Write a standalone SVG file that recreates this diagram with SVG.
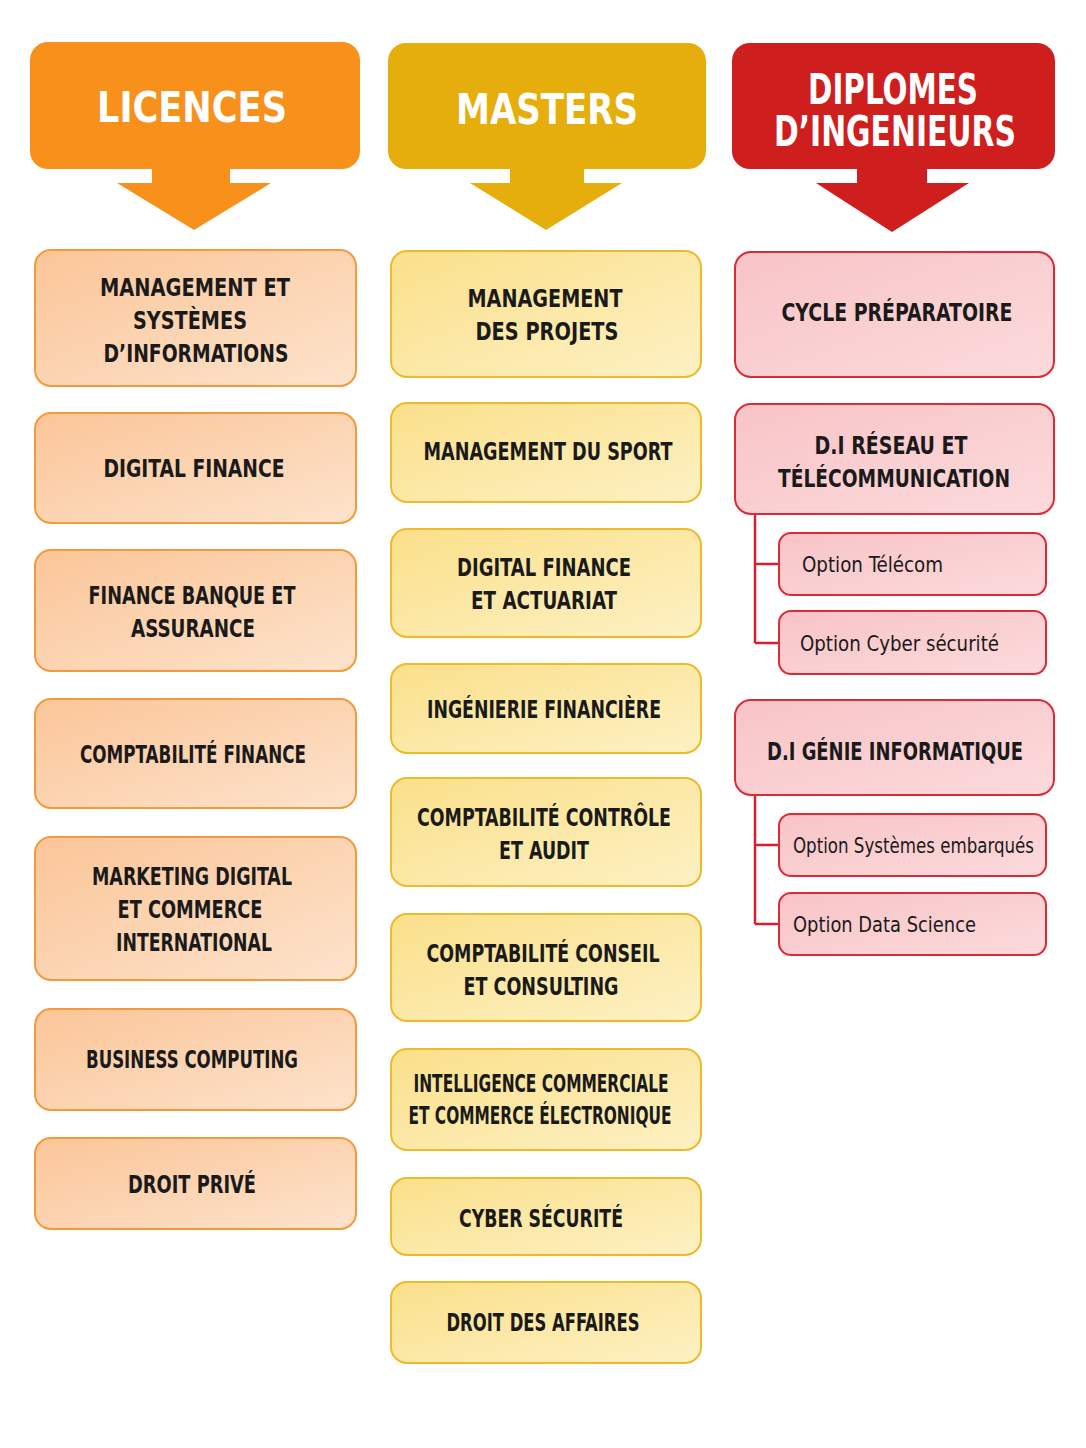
<svg xmlns="http://www.w3.org/2000/svg" width="1086" height="1448" viewBox="0 0 1086 1448">
<defs>
<linearGradient id="gl" x1="0" y1="0" x2="1" y2="1"><stop offset="0" stop-color="#FBC598"/><stop offset="1" stop-color="#FDE3CC"/></linearGradient>
<linearGradient id="gm" x1="0" y1="0" x2="1" y2="1"><stop offset="0" stop-color="#FBE08A"/><stop offset="1" stop-color="#FDF1C4"/></linearGradient>
<linearGradient id="gd" x1="0" y1="0" x2="1" y2="1"><stop offset="0" stop-color="#F8C4C7"/><stop offset="1" stop-color="#FCDADC"/></linearGradient>
</defs>
<style>
text{font-family:"DejaVu Sans Condensed","DejaVu Sans",sans-serif;font-weight:bold;text-anchor:middle;fill:#1a1a1a;font-size:24px}
.h{fill:#fff;font-size:42px}
.l{fill:url(#gl);stroke:#F39A3C;stroke-width:2}
.m{fill:url(#gm);stroke:#EDBB2A;stroke-width:2}
.d{fill:url(#gd);stroke:#DD2A38;stroke-width:2}
.o{font-size:22px;font-weight:normal;text-anchor:start}
.c{fill:none;stroke:#D62030;stroke-width:2.5}
</style>
<rect width="1086" height="1448" fill="#fff"/>
<g id="h-licences">
<rect x="30" y="42" width="330" height="127" rx="18" fill="#F8901C"/>
<polygon points="152,169 230,169 230,183 271,183 194,230 117,183 152,183" fill="#F8901C"/>
<text class="h" x="192" y="122" textLength="190" lengthAdjust="spacingAndGlyphs">LICENCES</text></g>
<g id="h-masters">
<rect x="388" y="43" width="318" height="126" rx="18" fill="#E6AE0C"/>
<polygon points="510,169 584,169 584,183 622,183 546,230 470,183 510,183" fill="#E6AE0C"/>
<text class="h" x="547" y="124" textLength="182" lengthAdjust="spacingAndGlyphs">MASTERS</text></g>
<g id="h-diplomes">
<rect x="732" y="43" width="323" height="126" rx="18" fill="#CF1E1E"/>
<polygon points="857,169 927,169 927,183 969,183 892,232 816,183 857,183" fill="#CF1E1E"/>
<text class="h" x="893" y="104" font-size="35" textLength="170" lengthAdjust="spacingAndGlyphs">DIPLOMES</text>
<text class="h" x="895" y="146" font-size="35" textLength="242" lengthAdjust="spacingAndGlyphs">D’INGENIEURS</text></g>

<g id="l1"><rect class="l" x="35" y="250" width="321" height="136" rx="16"/><text x="195" y="296" textLength="190" lengthAdjust="spacingAndGlyphs">MANAGEMENT ET</text><text x="190" y="329" textLength="114" lengthAdjust="spacingAndGlyphs">SYSTÈMES</text><text x="196" y="362" textLength="185" lengthAdjust="spacingAndGlyphs">D’INFORMATIONS</text></g>
<g id="l2"><rect class="l" x="35" y="413" width="321" height="110" rx="16"/><text x="194" y="477" textLength="181" lengthAdjust="spacingAndGlyphs">DIGITAL FINANCE</text></g>
<g id="l3"><rect class="l" x="35" y="550" width="321" height="121" rx="16"/><text x="192" y="604" textLength="207" lengthAdjust="spacingAndGlyphs">FINANCE BANQUE ET</text><text x="193" y="637" textLength="124" lengthAdjust="spacingAndGlyphs">ASSURANCE</text></g>
<g id="l4"><rect class="l" x="35" y="699" width="321" height="109" rx="16"/><text x="193" y="763" textLength="226" lengthAdjust="spacingAndGlyphs">COMPTABILITÉ FINANCE</text></g>
<g id="l5"><rect class="l" x="35" y="837" width="321" height="143" rx="16"/><text x="192" y="885" textLength="200" lengthAdjust="spacingAndGlyphs">MARKETING DIGITAL</text><text x="190" y="918" textLength="145" lengthAdjust="spacingAndGlyphs">ET COMMERCE</text><text x="194" y="951" textLength="156" lengthAdjust="spacingAndGlyphs">INTERNATIONAL</text></g>
<g id="l6"><rect class="l" x="35" y="1009" width="321" height="101" rx="16"/><text x="192" y="1068" textLength="212" lengthAdjust="spacingAndGlyphs">BUSINESS COMPUTING</text></g>
<g id="l7"><rect class="l" x="35" y="1138" width="321" height="91" rx="16"/><text x="192" y="1193" textLength="128" lengthAdjust="spacingAndGlyphs">DROIT PRIVÉ</text></g>

<g id="m1"><rect class="m" x="391" y="251" width="310" height="126" rx="16"/><text x="545" y="307" textLength="155" lengthAdjust="spacingAndGlyphs">MANAGEMENT</text><text x="547" y="340" textLength="143" lengthAdjust="spacingAndGlyphs">DES PROJETS</text></g>
<g id="m2"><rect class="m" x="391" y="403" width="310" height="99" rx="16"/><text x="548" y="460" textLength="249" lengthAdjust="spacingAndGlyphs">MANAGEMENT DU SPORT</text></g>
<g id="m3"><rect class="m" x="391" y="529" width="310" height="108" rx="16"/><text x="544" y="576" textLength="174" lengthAdjust="spacingAndGlyphs">DIGITAL FINANCE</text><text x="544" y="609" textLength="146" lengthAdjust="spacingAndGlyphs">ET ACTUARIAT</text></g>
<g id="m4"><rect class="m" x="391" y="664" width="310" height="89" rx="16"/><text x="544" y="718" textLength="234" lengthAdjust="spacingAndGlyphs">INGÉNIERIE FINANCIÈRE</text></g>
<g id="m5"><rect class="m" x="391" y="778" width="310" height="108" rx="16"/><text x="544" y="826" textLength="254" lengthAdjust="spacingAndGlyphs">COMPTABILITÉ CONTRÔLE</text><text x="544" y="859" textLength="90" lengthAdjust="spacingAndGlyphs">ET AUDIT</text></g>
<g id="m6"><rect class="m" x="391" y="914" width="310" height="107" rx="16"/><text x="543" y="962" textLength="233" lengthAdjust="spacingAndGlyphs">COMPTABILITÉ CONSEIL</text><text x="541" y="995" textLength="155" lengthAdjust="spacingAndGlyphs">ET CONSULTING</text></g>
<g id="m7"><rect class="m" x="391" y="1049" width="310" height="101" rx="16"/><text x="541" y="1092" font-size="22" textLength="255" lengthAdjust="spacingAndGlyphs">INTELLIGENCE COMMERCIALE</text><text x="540" y="1124" font-size="22" textLength="263" lengthAdjust="spacingAndGlyphs">ET COMMERCE ÉLECTRONIQUE</text></g>
<g id="m8"><rect class="m" x="391" y="1178" width="310" height="77" rx="16"/><text x="541" y="1227" textLength="164" lengthAdjust="spacingAndGlyphs">CYBER SÉCURITÉ</text></g>
<g id="m9"><rect class="m" x="391" y="1282" width="310" height="81" rx="16"/><text x="543" y="1331" textLength="193" lengthAdjust="spacingAndGlyphs">DROIT DES AFFAIRES</text></g>

<g id="connectors">
<path class="c" d="M755,514 V643 M755,564 H779 M755,643 H779"/>
<path class="c" d="M755,795 V924 M755,845 H779 M755,924 H779"/>
</g>
<g id="d1"><rect class="d" x="735" y="252" width="319" height="125" rx="16"/><text x="897" y="321" textLength="231" lengthAdjust="spacingAndGlyphs">CYCLE PRÉPARATOIRE</text></g>
<g id="d2"><rect class="d" x="735" y="404" width="319" height="110" rx="16"/><text x="891" y="454" textLength="153" lengthAdjust="spacingAndGlyphs">D.I  RÉSEAU ET</text><text x="894" y="487" textLength="232" lengthAdjust="spacingAndGlyphs">TÉLÉCOMMUNICATION</text></g>
<g id="d2a"><rect class="d" x="779" y="533" width="267" height="62" rx="12"/><text class="o" x="802" y="572" textLength="141" lengthAdjust="spacingAndGlyphs">Option Télécom</text></g>
<g id="d2b"><rect class="d" x="779" y="611" width="267" height="63" rx="12"/><text class="o" x="800" y="651" textLength="199" lengthAdjust="spacingAndGlyphs">Option Cyber sécurité</text></g>
<g id="d3"><rect class="d" x="735" y="700" width="319" height="95" rx="16"/><text x="895" y="760" textLength="256" lengthAdjust="spacingAndGlyphs">D.I  GÉNIE INFORMATIQUE</text></g>
<g id="d3a"><rect class="d" x="779" y="814" width="267" height="62" rx="12"/><text class="o" x="793" y="853" textLength="241" lengthAdjust="spacingAndGlyphs">Option Systèmes embarqués</text></g>
<g id="d3b"><rect class="d" x="779" y="893" width="267" height="62" rx="12"/><text class="o" x="793" y="932" textLength="183" lengthAdjust="spacingAndGlyphs">Option Data Science</text></g>
</svg>
